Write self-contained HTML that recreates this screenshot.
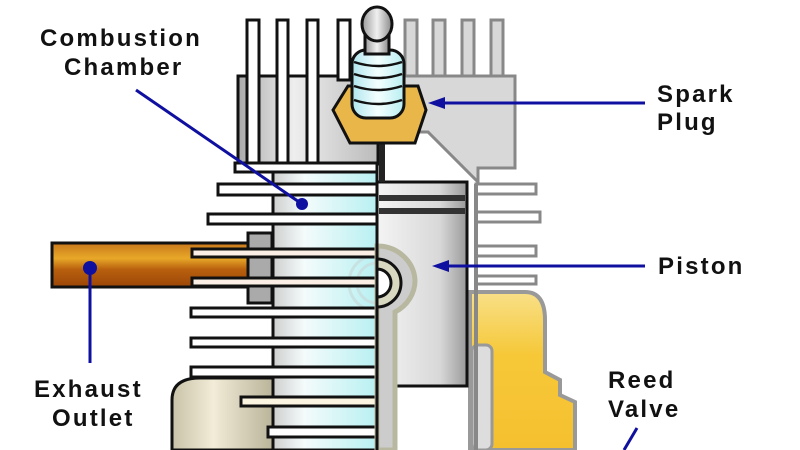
<!DOCTYPE html>
<html><head><style>body{margin:0;background:#fff}svg{display:block}
text{font-family:"Liberation Sans",sans-serif;font-weight:bold;font-size:24px;letter-spacing:2.2px;fill:#111}</style></head>
<body>
<svg width="800" height="450" viewBox="0 0 800 450" xmlns="http://www.w3.org/2000/svg">
<defs>
<linearGradient id="cyl" x1="0" x2="1"><stop offset="0" stop-color="#cfcfcf"/><stop offset=".3" stop-color="#f4fbfb"/><stop offset="1" stop-color="#b8f0f2"/></linearGradient>
<linearGradient id="pis" x1="0" x2="1"><stop offset="0" stop-color="#f4f4f4"/><stop offset=".7" stop-color="#d8d8d8"/><stop offset="1" stop-color="#9a9a9a"/></linearGradient>
<linearGradient id="pipe" x1="0" y1="0" x2="0" y2="1"><stop offset="0" stop-color="#c9781c"/><stop offset=".35" stop-color="#e8a828"/><stop offset=".6" stop-color="#b8600e"/><stop offset="1" stop-color="#9c4608"/></linearGradient>
<linearGradient id="head" x1="0" x2="1"><stop offset="0" stop-color="#aaa"/><stop offset=".4" stop-color="#eee"/><stop offset="1" stop-color="#bbb"/></linearGradient>
<linearGradient id="crank" x1="0" x2="1"><stop offset="0" stop-color="#c8c2a8"/><stop offset=".4" stop-color="#f2ecd8"/><stop offset="1" stop-color="#b8b298"/></linearGradient>
<linearGradient id="yel" x1="0" y1="0" x2="0" y2="1"><stop offset="0" stop-color="#f8e088"/><stop offset=".4" stop-color="#f6c838"/><stop offset="1" stop-color="#f5c030"/></linearGradient>
<linearGradient id="ins" x1="0" x2="1"><stop offset="0" stop-color="#b0e6ee"/><stop offset=".5" stop-color="#f4ffff"/><stop offset="1" stop-color="#b8eef2"/></linearGradient>
<linearGradient id="cap" x1="0" x2="1"><stop offset="0" stop-color="#999"/><stop offset=".5" stop-color="#f0f0f0"/><stop offset="1" stop-color="#888"/></linearGradient>
</defs>

<g fill="#d8d8d8" stroke="#888" stroke-width="3">
<rect x="405" y="20" width="12" height="60"/><rect x="433" y="20" width="12" height="60"/><rect x="462" y="20" width="12" height="60"/><rect x="491" y="20" width="12" height="60"/>
<path d="M378 76 H515 V168 H478 V182 L428 132 L378 132 Z"/>
</g>
<g fill="#fff" stroke="#888" stroke-width="3">
<rect x="476" y="184" width="60" height="10"/><rect x="476" y="212" width="64" height="10"/><rect x="476" y="246" width="60" height="10"/><rect x="476" y="276" width="60" height="8"/>
</g>
<path d="M470 292 H525 Q545 292 545 320 V372 L560 380 V395 L575 402 V450 H470 Z" fill="url(#yel)" stroke="#999" stroke-width="4"/>
<rect x="472" y="345" width="20" height="105" fill="#ddd" stroke="#999" stroke-width="3" rx="6"/>
<line x1="476" y1="184" x2="476" y2="450" stroke="#888" stroke-width="4"/>

<g fill="url(#head)" stroke="#111" stroke-width="3">
<rect x="238" y="76" width="140" height="88"/>
</g>
<g fill="#fff" stroke="#111" stroke-width="3">
<rect x="247" y="20" width="12" height="145"/><rect x="277" y="20" width="11" height="145"/><rect x="307" y="20" width="11" height="145"/><rect x="338" y="20" width="12" height="60"/>
<rect x="235" y="163" width="142" height="9"/>
</g>

<path d="M172 450 V400 Q172 378 200 378 H275 V450 Z" fill="url(#crank)" stroke="#111" stroke-width="3"/>
<rect x="52" y="243" width="200" height="44" fill="url(#pipe)" stroke="#111" stroke-width="3"/>
<rect x="248" y="233" width="24" height="70" fill="#aaa" stroke="#111" stroke-width="3"/>

<rect x="273" y="172" width="104" height="278" fill="url(#cyl)" stroke="#111" stroke-width="3"/>
<g fill="none" stroke="#c8dede" stroke-width="3" opacity=".8">
<circle cx="377" cy="283" r="28"/><circle cx="377" cy="283" r="20"/>
</g>
<g fill="#fff" stroke="#111" stroke-width="3">
<rect x="218" y="184" width="159" height="11"/><rect x="208" y="214" width="169" height="10"/>
<rect x="192" y="249" width="185" height="8" fill="#fbeee4"/><rect x="192" y="278" width="185" height="8" fill="#fbeee4"/>
<rect x="191" y="308" width="186" height="9"/><rect x="191" y="338" width="186" height="9"/><rect x="191" y="367" width="186" height="10"/>
<rect x="241" y="397" width="136" height="9" fill="#fbf4e0"/><rect x="268" y="427" width="109" height="10"/>
</g>

<rect x="377" y="182" width="90" height="204" fill="url(#pis)" stroke="#111" stroke-width="3"/>
<rect x="379" y="195" width="86" height="6" fill="#333"/><rect x="379" y="208" width="86" height="6" fill="#333"/>
<path d="M377 246 A38 36 0 0 1 415 280 A38 36 0 0 1 395 312 V450 H377 Z" fill="#ccc" stroke="#b8b8a0" stroke-width="5"/>
<path d="M377 259 A24 24 0 0 1 377 307 Z" fill="#d8d8c0" stroke="#111" stroke-width="3"/>
<path d="M377 269 A14 14 0 0 1 377 297 Z" fill="#fff" stroke="#111" stroke-width="3"/>
<line x1="377" y1="172" x2="377" y2="450" stroke="#111" stroke-width="3"/>

<!-- spark plug -->
<line x1="382" y1="140" x2="382" y2="182" stroke="#222" stroke-width="6"/>
<path d="M333 110 L348 86 H418 L426 110 L415 143 H350 Z" fill="#e9b64a" stroke="#111" stroke-width="3"/>
<rect x="352" y="50" width="52" height="68" rx="14" fill="url(#ins)" stroke="#111" stroke-width="3"/>
<g stroke="#111" stroke-width="2.5" fill="none"><path d="M354 62 Q378 70 402 62"/><path d="M354 74 Q378 82 402 74"/><path d="M354 86 Q378 94 402 86"/><path d="M354 100 Q378 108 402 100"/></g>
<rect x="365" y="36" width="24" height="18" fill="url(#cap)" stroke="#111" stroke-width="3"/>
<ellipse cx="377" cy="24" rx="15" ry="17" fill="url(#cap)" stroke="#111" stroke-width="3"/>

<g stroke="#1010a0" stroke-width="3" fill="#1010a0">
<line x1="136" y1="90" x2="302" y2="204"/><circle cx="302" cy="204" r="6" stroke="none"/>
<line x1="645" y1="103" x2="440" y2="103"/><path d="M428 103 L445 97 L445 109 Z" stroke="none"/>
<line x1="645" y1="266" x2="446" y2="266"/><path d="M432 266 L449 260 L449 272 Z" stroke="none"/>
<line x1="90" y1="268" x2="90" y2="363"/><circle cx="90" cy="268" r="7" stroke="none"/>
<line x1="637" y1="428" x2="624" y2="450"/>
</g>
<text x="40" y="46">Combustion</text>
<text x="64" y="75">Chamber</text>
<text x="657" y="102">Spark</text>
<text x="657" y="130">Plug</text>
<text x="658" y="274">Piston</text>
<text x="34" y="397">Exhaust</text>
<text x="52" y="426">Outlet</text>
<text x="608" y="388">Reed</text>
<text x="608" y="417">Valve</text>
</svg>
</body></html>
